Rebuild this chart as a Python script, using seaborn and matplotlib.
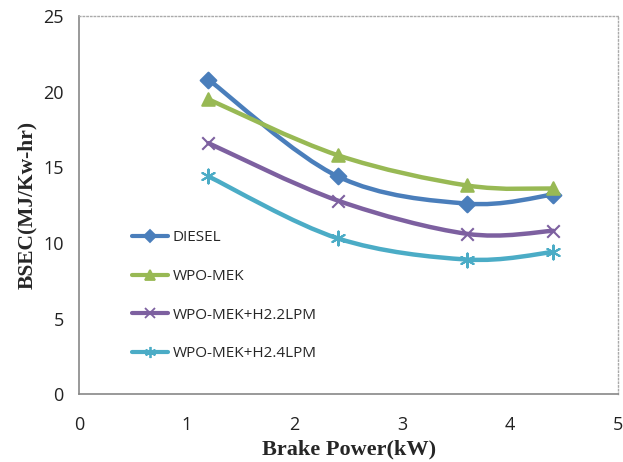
import matplotlib
matplotlib.use("Agg")
import matplotlib.pyplot as plt
from matplotlib.path import Path
from matplotlib.patches import PathPatch
from matplotlib.lines import Line2D
import numpy as np
import pandas as pd
import seaborn as sns

# data
brake_power = [1.2, 2.4, 3.6, 4.4]
diesel = [20.8, 14.4, 12.6, 13.2]
wpo_mek = [19.5, 15.8, 13.8, 13.6]
wpo_h22 = [16.6, 12.8, 10.6, 10.8]
wpo_h24 = [14.4, 10.3, 8.9, 9.4]
series_names = ["DIESEL", "WPO-MEK", "WPO-MEK+H2.2LPM", "WPO-MEK+H2.4LPM"]

colors = ["#4A7EBB", "#98B954", "#7D60A0", "#4BACC6"]
markers = ["D", "^", "x", (6, 2, 0)]
msizes = [8, 9, 9, 10]

sns.set_theme(style="white")
plt.rcParams["font.family"] = ["Open Sans", "DejaVu Sans"]

df = pd.DataFrame({
    "power": brake_power * 4,
    "bsec": diesel + wpo_mek + wpo_h22 + wpo_h24,
    "fuel": [n for n in series_names for _ in brake_power],
})

fig = plt.figure(figsize=(6.23, 4.62), dpi=100)
ax = fig.add_axes([0.127, 0.147, 0.865, 0.818])


def smooth_path(xs, ys):
    # Excel-style smoothed line: cubic Bezier segments through the points
    pts = np.column_stack([xs, ys]).astype(float)
    n = len(pts)
    verts = [pts[0]]
    codes = [Path.MOVETO]
    for i in range(n - 1):
        p0 = pts[i - 1] if i > 0 else pts[i]
        p1, p2 = pts[i], pts[i + 1]
        p3 = pts[i + 2] if i + 2 < n else pts[i + 1]
        c1 = p1 + (p2 - p0) / 6.0
        c2 = p2 - (p3 - p1) / 6.0
        verts += [c1, c2, p2]
        codes += [Path.CURVE4] * 3
    return Path(verts, codes)


handles = []
for name, col, mk, ms in zip(series_names, colors, markers, msizes):
    sub = df[df["fuel"] == name]
    ax.add_patch(PathPatch(smooth_path(sub["power"], sub["bsec"]),
                           facecolor="none", edgecolor=col, lw=3.2,
                           capstyle="round", joinstyle="round", zorder=2))
    sns.scatterplot(data=sub, x="power", y="bsec", marker=mk, s=ms ** 2,
                    color=col, edgecolor=col, linewidth=1.5, ax=ax,
                    zorder=3, legend=False)
    handles.append(Line2D([0], [0], color=col, lw=3, marker=mk,
                          markersize=ms * 0.8, markeredgewidth=1.3,
                          markeredgecolor=col, label=name))

ax.set_xlim(0, 5)
ax.set_ylim(0, 25)
ax.set_xticks(range(0, 6))
ax.set_yticks(range(0, 30, 5))
ax.tick_params(axis="both", labelsize=13, colors="#222222", direction="out",
               length=5, width=1, color="#888888")
ax.tick_params(axis="x", pad=11)
ax.tick_params(axis="y", pad=6)
ax.set_xlabel("Brake Power(kW)", family=["Liberation Serif"],
              fontweight="bold", fontsize=16, labelpad=4)
ax.set_ylabel("BSEC(MJ/Kw-hr)", family=["Liberation Serif"],
              fontweight="bold", fontsize=15.5)
ax.yaxis.set_label_coords(-0.077, 0.5)

for side in ["left", "bottom"]:
    ax.spines[side].set_color("#888888")
    ax.spines[side].set_linewidth(1.2)
for side in ["top", "right"]:
    ax.spines[side].set_color("#aaaaaa")
    ax.spines[side].set_linestyle(":")
    ax.spines[side].set_linewidth(1)

ax.legend(handles=handles, loc="upper left", bbox_to_anchor=(0.072, 0.47),
          frameon=False, fontsize=11, labelspacing=1.55, handlelength=2.4,
          handletextpad=0.3)

fig.savefig("out.png", dpi=100)
